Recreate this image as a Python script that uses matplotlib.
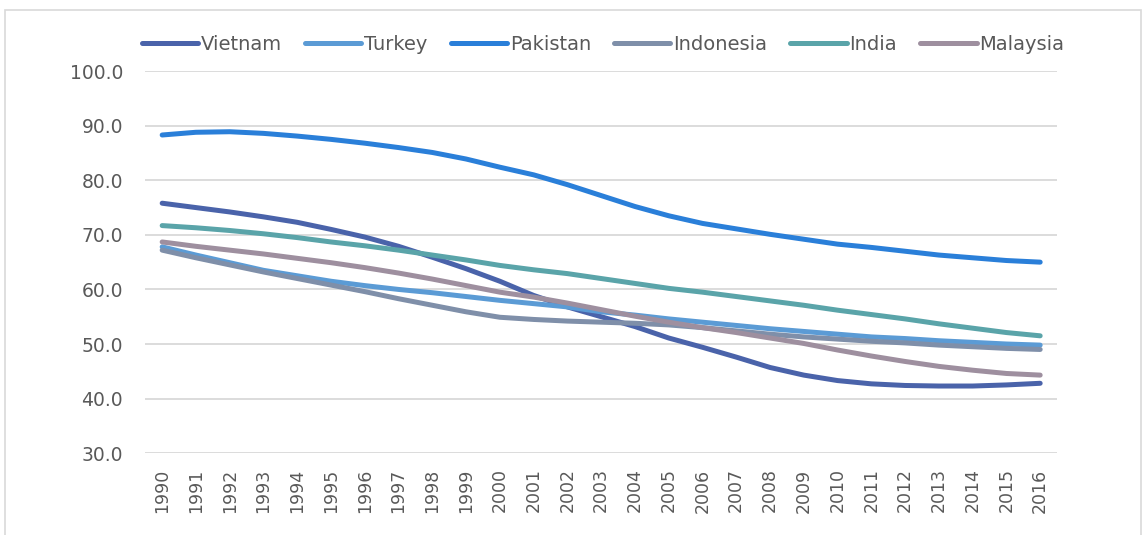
# Line chart: six countries, 1990-2016
import matplotlib.pyplot as plt
from matplotlib.patches import Rectangle
import numpy as np

years = [str(y) for y in range(1990, 2017)]

vietnam = [75.8, 75.0, 74.2, 73.3, 72.3, 71.0, 69.6, 67.9, 65.9, 63.8, 61.5, 58.9, 56.8, 55.0,
           53.2, 51.1, 49.4, 47.6, 45.7, 44.3, 43.3, 42.7, 42.4, 42.3, 42.3, 42.5, 42.8]
turkey = [67.8, 66.3, 64.9, 63.5, 62.5, 61.5, 60.7, 60.0, 59.4, 58.7, 58.0, 57.4, 56.8, 55.9,
          55.3, 54.6, 54.0, 53.4, 52.8, 52.3, 51.8, 51.3, 51.0, 50.6, 50.3, 50.0, 49.8]
pakistan = [88.3, 88.8, 88.9, 88.6, 88.1, 87.5, 86.8, 86.0, 85.1, 83.9, 82.4, 81.0, 79.2, 77.2,
            75.2, 73.5, 72.1, 71.1, 70.1, 69.2, 68.3, 67.7, 67.0, 66.3, 65.8, 65.3, 65.0]
indonesia = [67.2, 65.8, 64.5, 63.2, 62.0, 60.8, 59.6, 58.3, 57.1, 55.9, 54.9, 54.5, 54.2, 54.0,
             53.8, 53.5, 53.0, 52.4, 51.8, 51.3, 50.9, 50.5, 50.2, 49.8, 49.5, 49.2, 49.0]
india = [71.7, 71.3, 70.8, 70.2, 69.5, 68.7, 68.0, 67.2, 66.3, 65.4, 64.4, 63.6, 62.9, 62.0,
         61.1, 60.2, 59.5, 58.7, 57.9, 57.1, 56.2, 55.4, 54.6, 53.7, 52.9, 52.1, 51.5]
malaysia = [68.7, 67.9, 67.2, 66.5, 65.7, 64.9, 64.0, 63.0, 61.9, 60.7, 59.5, 58.6, 57.5, 56.3,
            55.1, 54.0, 53.0, 52.1, 51.1, 50.1, 48.9, 47.8, 46.8, 45.9, 45.2, 44.6, 44.3]

names = ["Vietnam", "Turkey", "Pakistan", "Indonesia", "India", "Malaysia"]
series = [vietnam, turkey, pakistan, indonesia, india, malaysia]
colors = ["#4a63aa", "#5b9bd5", "#2a7fd9", "#7f8fa9", "#5aa4a9", "#9e8f9f"]

plt.rcParams['font.family'] = ['DejaVu Sans']

fig = plt.figure(figsize=(11.44, 5.35), dpi=100)
ax = fig.add_axes([0.127, 0.153, 0.797, 0.714])

x = np.arange(len(years))
for name, vals, c in zip(names, series, colors):
    ax.plot(x, vals, color=c, lw=3.6, label=name, solid_capstyle='round',
            solid_joinstyle='round')

ax.set_ylim(30, 100)
ax.set_yticks(np.arange(30, 101, 10))
ax.set_yticklabels(["%.1f" % v for v in np.arange(30, 101, 10)])
ax.set_xlim(-0.5, len(years) - 0.5)
ax.set_xticks(x)
ax.set_xticklabels(years, rotation=90)

ax.grid(axis='y', color='#d9d9d9', lw=1.3)
ax.set_axisbelow(True)
for s in ax.spines.values():
    s.set_visible(False)
ax.tick_params(length=0, colors='#595959')
ax.tick_params(axis='y', labelsize=13.5, pad=16)
ax.tick_params(axis='x', labelsize=12.5, pad=11)

leg = ax.legend(ncol=6, loc='lower center', bbox_to_anchor=(0.502, 1.01), frameon=False,
                fontsize=14, handlelength=2.9, handletextpad=0.15, columnspacing=1.18,
                borderaxespad=0.3)
for t in leg.get_texts():
    t.set_color('#595959')

# thin grey chart border
fig.patches.append(Rectangle((5 / 1144, -0.02), 1136 / 1144, 1 - 10 / 535 + 0.02,
                             transform=fig.transFigure, fill=False,
                             edgecolor='#d9d9d9', lw=1.2))

fig.savefig("out.png", dpi=100)
